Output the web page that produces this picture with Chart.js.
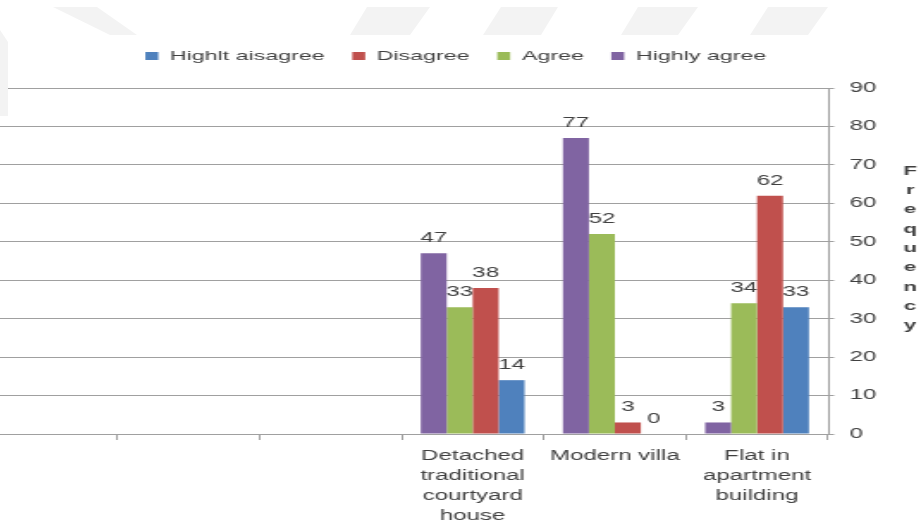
<!DOCTYPE html>
<html>
<head>
<meta charset="utf-8">
<script src="https://cdn.jsdelivr.net/npm/chart.js@4.4.1/dist/chart.umd.min.js"></script>
<style>
  html, body { margin: 0; padding: 0; background: #fff; width: 918px; height: 522px; overflow: hidden; }
  #bg { position: absolute; left: 0; top: 0; z-index: 2; pointer-events: none; }
  /* the chart is laid out narrow and stretched sideways */
  #wrap { position: absolute; left: -25px; top: 0; width: 559px; height: 522px;
          transform: scaleX(1.72); transform-origin: 0 0; z-index: 1; }
</style>
</head>
<body>
<svg id="bg" width="918" height="120">
  <g fill="#f3f3f3">
    <polygon points="53,7 97,7 137,35 110,35"/>
    <polygon points="367,7 430,7 410,35 350,35"/>
    <polygon points="501,7 558,7 541,35 483,35"/>
    <polygon points="638,7 698,7 678,35 621,35"/>
    <polygon points="768,7 828,7 808,35 750,35"/>
    <polygon points="0,30 8,42 8,116 0,116"/>
  </g>
</svg>
<div id="wrap"><canvas id="c"></canvas></div>
<script>
const categories = ['', '', '',
  ['Detached', 'traditional', 'courtyard', 'house'],
  'Modern villa',
  ['Flat in', 'apartment', 'building']];
const highlyAgree    = [null, null, null, 47, 77, 3];
const agree          = [null, null, null, 33, 52, 34];
const disagree       = [null, null, null, 38, 3, 62];
const highlyDisagree = [null, null, null, 14, 0, 33];
const yMin = 0, yMax = 90, yStep = 10;
const yTitle = 'Frequency';

const FONT = "'Liberation Sans', Arial, sans-serif";
const TEXT = '#404040';
const GRID = '#a0a0a0';

// value printed above each bar
const barValues = {
  id: 'barValues',
  afterDatasetsDraw(chart) {
    const ctx = chart.ctx;
    ctx.save();
    ctx.font = '14px ' + FONT;
    ctx.fillStyle = TEXT;
    ctx.textAlign = 'center';
    ctx.textBaseline = 'middle';
    chart.data.datasets.forEach((ds, i) => {
      chart.getDatasetMeta(i).data.forEach((bar, j) => {
        const v = ds.data[j];
        if (v === null || v === undefined) return;
        ctx.fillText(String(v), bar.x, bar.y - 15);
      });
    });
    ctx.restore();
  }
};

// axis title written letter by letter down the right side
const stackedTitle = {
  id: 'stackedTitle',
  afterDraw(chart) {
    const ctx = chart.ctx;
    const a = chart.chartArea;
    const letters = yTitle.split('');
    const step = 19.3;
    const cy = (a.top + a.bottom) / 2 - 12.5;
    const y0 = cy - step * (letters.length - 1) / 2;
    ctx.save();
    ctx.font = 'bold 13px ' + FONT;
    ctx.fillStyle = TEXT;
    ctx.textAlign = 'center';
    ctx.textBaseline = 'middle';
    letters.forEach((ch, i) => ctx.fillText(ch, a.right + 47.7, y0 + i * step));
    ctx.restore();
  }
};

new Chart(document.getElementById('c'), {
  type: 'bar',
  data: {
    labels: categories,
    datasets: [
      { label: 'Highly agree',    data: highlyAgree,    backgroundColor: '#8064A2' },
      { label: 'Agree',           data: agree,          backgroundColor: '#9BBB59' },
      { label: 'Disagree',        data: disagree,       backgroundColor: '#C0504D' },
      { label: 'Highlt aisagree', data: highlyDisagree, backgroundColor: '#4F81BD' }
    ]
  },
  options: {
    responsive: true,
    maintainAspectRatio: false,
    animation: false,
    events: [],
    layout: { padding: { top: 33.25, left: 0, right: 0, bottom: 0 } },
    datasets: { bar: { categoryPercentage: 0.73, barPercentage: 1, borderWidth: 0 } },
    scales: {
      x: {
        grid: { display: true, drawOnChartArea: false, offset: true, tickLength: 6, color: GRID },
        border: { display: true, color: GRID },
        ticks: { color: TEXT, font: { family: FONT, size: 14, lineHeight: 1.43 },
                 maxRotation: 0, autoSkip: false, padding: 6 },
        afterFit(s) { s.height = 88; }
      },
      y: {
        position: 'right',
        min: yMin, max: yMax,
        grid: { color: GRID, tickLength: 3.5 },
        border: { display: true, color: GRID },
        ticks: { stepSize: yStep, color: TEXT, font: { family: FONT, size: 14 }, padding: 9 },
        afterFit(s) { s.width = 63; }
      }
    },
    plugins: {
      legend: {
        position: 'top',
        weight: 3000,
        reverse: true,
        labels: { boxWidth: 7.5, boxHeight: 8, padding: 16, color: TEXT,
                  font: { family: FONT, size: 13.5 } }
      },
      title: { display: true, text: '', padding: 0, font: { size: 10, lineHeight: 1.525 } },
      tooltip: { enabled: false }
    }
  },
  plugins: [barValues, stackedTitle]
});
</script>
</body>
</html>
